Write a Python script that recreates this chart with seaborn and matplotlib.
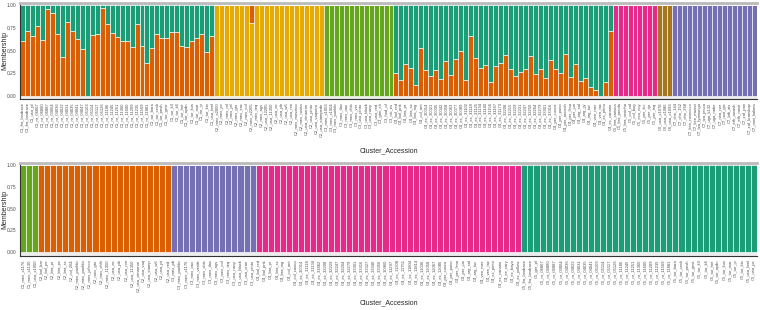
import numpy as np
import pandas as pd
import seaborn as sns
import matplotlib
matplotlib.use("Agg")
import matplotlib.pyplot as plt

sns.set_style("white")
plt.rcParams['font.family'] = ['Liberation Sans', 'DejaVu Sans']

# ---- component colours (Dark2), listed top of stack -> bottom of stack ----
comps = ['K1', 'K2', 'K3', 'K4', 'K5', 'K6', 'K7']
comp_colors = {'K1': '#1B9E77', 'K2': '#D95F02', 'K3': '#7570B3', 'K4': '#E7298A',
               'K5': '#66A61E', 'K6': '#E6AB02', 'K7': '#A6761D'}

# ---------------- top panel data ----------------
top_c1_names = ["fra_landrace", "fra_landrace", "usa_pl", "nr_06867", "nr_06880", "nr_06887",
                "nr_03064", "nr_04036", "nr_04022", "nr_04031", "nr_04035", "nr_04041",
                "nr_04047", "nr_05103", "nr_05114", "nr_05117", "nr_05126", "nr_11186",
                "nr_11245", "nr_11251", "nr_11360", "nr_11600", "nr_11209", "nr_11235",
                "nr_11569", "nr_11881", "tur_bara", "tur_cesk", "tur_pesh", "tur_gest",
                "tur_k3", "tur_k6", "tur_hnt", "tur_aydn", "tur_kus", "tur_mar", "tur_ip",
                "tur_ktv", "usa_bml"]
# orange share (rest is teal)
top_c1_orange = [0.60, 0.72, 0.66, 0.77, 0.62, 0.96, 0.91, 0.68, 0.43, 0.82,
                 0.72, 0.63, 0.52, 0.00, 0.67, 0.68, 0.97, 0.79, 0.69, 0.645,
                 0.61, 0.60, 0.54, 0.79, 0.55, 0.36, 0.53, 0.68, 0.64, 0.64,
                 0.71, 0.70, 0.55, 0.54, 0.61, 0.64, 0.685, 0.48, 0.66]

top_c2_names = ["mex_x2000", "mex_pv", "mex_ml", "mex_jal", "mex_gto", "mex_zac", "mex_col",
                "mex_x2265", "mex_teq", "mex_ags", "usa_12285", "usa_11350", "usa_ac", "usa_pb",
                "usa_w6", "usa_nm", "mex_mosaico", "mex_rosita", "usa_cimarron", "usa_pinto",
                "usa_vaquero", "usa_stampede"]
# orange share (rest is yellow)
top_c2_orange = [0, 0, 0, 0, 0, 0, 0, 0.20, 0, 0, 0, 0, 0, 0, 0, 0, 0, 0, 0, 0, 0, 0]

top_c3_names = ["mex_x1003", "mex_x1004", "mex_pueblo", "mex_tlax", "mex_oax", "mex_chis",
                "mex_ver", "usa_pinto", "usa_black", "usa_navy", "usa_red", "gtm_ch",
                "hnd_ol", "nic_es"]

top_c4_names = ["bol_red", "bol_pnk", "bra_pr", "bra_sc", "bra_mg", "col_ant", "ec_30014",
                "ec_30021", "ec_30035", "ec_30042", "ec_30058", "ec_30063", "ec_30077",
                "ec_30089", "ec_31102", "ec_31118", "ec_31125", "ec_31134", "ec_31140",
                "ec_31156", "ec_31167", "ec_31173", "ec_32208", "ec_32215", "ec_32229",
                "ec_32231", "ec_32247", "ec_32250", "ec_32264", "ec_32279", "ec_33301",
                "ec_33316", "per_cusco", "per_puno", "per_ancash", "per_lima", "per_jun",
                "arg_sal", "arg_jjy", "arg_tuc", "ven_mer", "ven_tac", "ec_pinto", "ec_canario"]
# orange share (rest is teal)
top_c4_orange = [0.25, 0.18, 0.35, 0.31, 0.12, 0.53, 0.29, 0.22, 0.28, 0.19, 0.39,
                 0.23, 0.41, 0.49, 0.18, 0.66, 0.42, 0.31, 0.34, 0.15, 0.33, 0.36,
                 0.45, 0.30, 0.22, 0.26, 0.30, 0.44, 0.24, 0.30, 0.20, 0.40, 0.30,
                 0.25, 0.46, 0.21, 0.35, 0.16, 0.20, 0.10, 0.06, 0.00, 0.15, 0.72]

top_c5_names = ["bra_carioca", "bra_perola", "bra_rosinha", "col_cal", "col_bog", "ecu_cuy",
                "per_lcc", "per_rjo", "per_tsq"]
top_c6_names = ["usa_x1078", "usa_x1086", "usa_x1093"]
top_c7_names = ["chn_144", "chn_152", "chn_268", "ken_rosecoco", "ken_mwezi", "tza_lyamungu",
                "tza_jesca", "uga_k132", "uga_nabe", "rwa_rwr", "rwa_gis", "bdi_ais",
                "eth_awash", "eth_nasir", "zaf_pan", "zaf_kranskop", "mwi_kalima"]

# ---------------- bottom panel data ----------------
bot_c1_names = ["mex_x1176", "mex_x1130", "usa_x1000"]
bot_c2_names = ["bol_bar", "bol_ps", "bra_pr", "bra_pc", "bra_sc", "col_264", "mex_pueblo",
                "mex_puebla", "mex_jalisco", "mex_gto", "mex_chih", "mex_11350", "usa_ac",
                "usa_pb", "usa_nm", "usa_11350", "usa_cimarron", "usa_vaq", "usa_stamp",
                "usa_w6", "usa_pt", "usa_red"]
bot_c3_names = ["mex_pb", "mex_pueblo", "mex_x1176", "mex_oax", "mex_verde", "mex_chis",
                "mex_tlax", "mex_ags", "mex_col", "mex_teq", "usa_navy", "usa_black",
                "usa_cran", "usa_pinto"]
bot_c4_names = ["bol_red", "bol_pnk", "bra_pr", "bra_sc", "bra_mg", "col_ant", "col_cauca",
                "ec_30014", "ec_31118", "ec_31134", "ec_31862", "ec_32208", "ec_32229",
                "ec_32247", "ec_32264", "ec_32279", "ec_33301", "ec_33316", "ec_33327",
                "ec_33340", "ec_33356", "ec_10960", "ec_11297", "ec_11308", "ec_11751",
                "ec_11804", "ec_11814", "ec_12036", "ec_12058", "ec_12067", "ec_12086",
                "per_cusco", "per_puno", "per_lima", "per_jun", "arg_sal", "arg_tuc",
                "ven_mer", "ven_tac", "ec_pinto", "ec_canario", "ec_cary", "ec_bayo",
                "ec_yellow"]
bot_c5_names = ["fra_landrace", "fra_landrace", "ger_pl", "nr_06867", "nr_06880", "nr_06887",
                "nr_03064", "nr_04036", "nr_04022", "nr_04031", "nr_04035", "nr_04041",
                "nr_05103", "nr_05114", "nr_05117", "nr_05126", "nr_11186", "nr_11245",
                "nr_11251", "nr_11360", "nr_11600", "nr_11209", "nr_11235", "nr_11569",
                "nr_11881", "tur_bara", "tur_cesk", "tur_pesh", "tur_gest", "tur_k3",
                "tur_k6", "tur_hnt", "tur_aydn", "tur_kus", "tur_mar", "tur_ip",
                "tur_ktv", "usa_bml", "usa_pc"]


def rows_for(start, names, shares):
    # shares: dict comp -> membership values for each accession of this cluster
    out = []
    for i in range(len(names)):
        for comp, vals in shares.items():
            out.append({'pos': start + i, 'comp': comp, 'value': vals[i]})
    return out


def build(clusters):
    rows = []
    labels = []
    for c, names, shares in clusters:
        rows += rows_for(len(labels), names, shares)
        labels += ['C{}_{}'.format(c, n) for n in names]
    return pd.DataFrame(rows), labels


def full(names):
    return [1.0] * len(names)


top_df, top_labels = build([
    (1, top_c1_names, {'K1': [1 - v for v in top_c1_orange], 'K2': top_c1_orange}),
    (2, top_c2_names, {'K2': top_c2_orange, 'K6': [1 - v for v in top_c2_orange]}),
    (3, top_c3_names, {'K5': full(top_c3_names)}),
    (4, top_c4_names, {'K1': [1 - v for v in top_c4_orange], 'K2': top_c4_orange}),
    (5, top_c5_names, {'K4': full(top_c5_names)}),
    (6, top_c6_names, {'K7': full(top_c6_names)}),
    (7, top_c7_names, {'K3': full(top_c7_names)}),
])

bot_df, bot_labels = build([
    (1, bot_c1_names, {'K5': full(bot_c1_names)}),
    (2, bot_c2_names, {'K2': full(bot_c2_names)}),
    (3, bot_c3_names, {'K3': full(bot_c3_names)}),
    (4, bot_c4_names, {'K4': full(bot_c4_names)}),
    (5, bot_c5_names, {'K1': full(bot_c5_names)}),
])


def draw(ax, df, labels):
    present = [c for c in comps if c in set(df['comp'])]
    sns.histplot(data=df, x='pos', weights='value', hue='comp', hue_order=present,
                 palette=comp_colors, multiple='stack', discrete=True, shrink=1,
                 edgecolor='white', linewidth=0.45, alpha=1, legend=False, ax=ax)
    ax.set_facecolor('#ececec')
    ax.set_xlim(-0.5, len(labels) - 0.5)
    ax.set_xticks(range(len(labels)))
    ax.set_xticklabels(labels, rotation=90, fontsize=3, color='#4d4d4d')
    ax.set_yticks([0, 0.25, 0.5, 0.75, 1.0])
    ax.set_yticklabels(['0.00', '0.25', '0.50', '0.75', '1.00'], fontsize=3.5, color='#4d4d4d')
    ax.tick_params(axis='both', length=1.5, width=0.4, color='#333333', pad=1)
    ax.set_ylabel('Membership', fontsize=5)
    ax.set_xlabel('Cluster_Accession', fontsize=5)
    ax.yaxis.set_label_coords(-0.016, 0.5)
    ax.xaxis.set_label_coords(0.5, -0.5)
    ax.spines['right'].set_visible(False)
    ax.spines['top'].set_color('#bbbbbb')
    ax.spines['top'].set_linewidth(2)
    for s in ['left', 'bottom']:
        ax.spines[s].set_color('#333333')
        ax.spines[s].set_linewidth(0.8)


fig = plt.figure(figsize=(7.6, 3.1), dpi=100)
ax1 = fig.add_axes([20 / 760, 1 - 99 / 310, 737 / 760, 96 / 310])
ax2 = fig.add_axes([20 / 760, 1 - 256 / 310, 737 / 760, 93 / 310])

draw(ax1, top_df, top_labels)
ax1.set_ylim(-0.035, 1.025)

draw(ax2, bot_df, bot_labels)
ax2.set_ylim(-0.045, 1.025)
ax2.xaxis.set_label_coords(0.5, -0.47)

fig.savefig('out.png', dpi=100)
